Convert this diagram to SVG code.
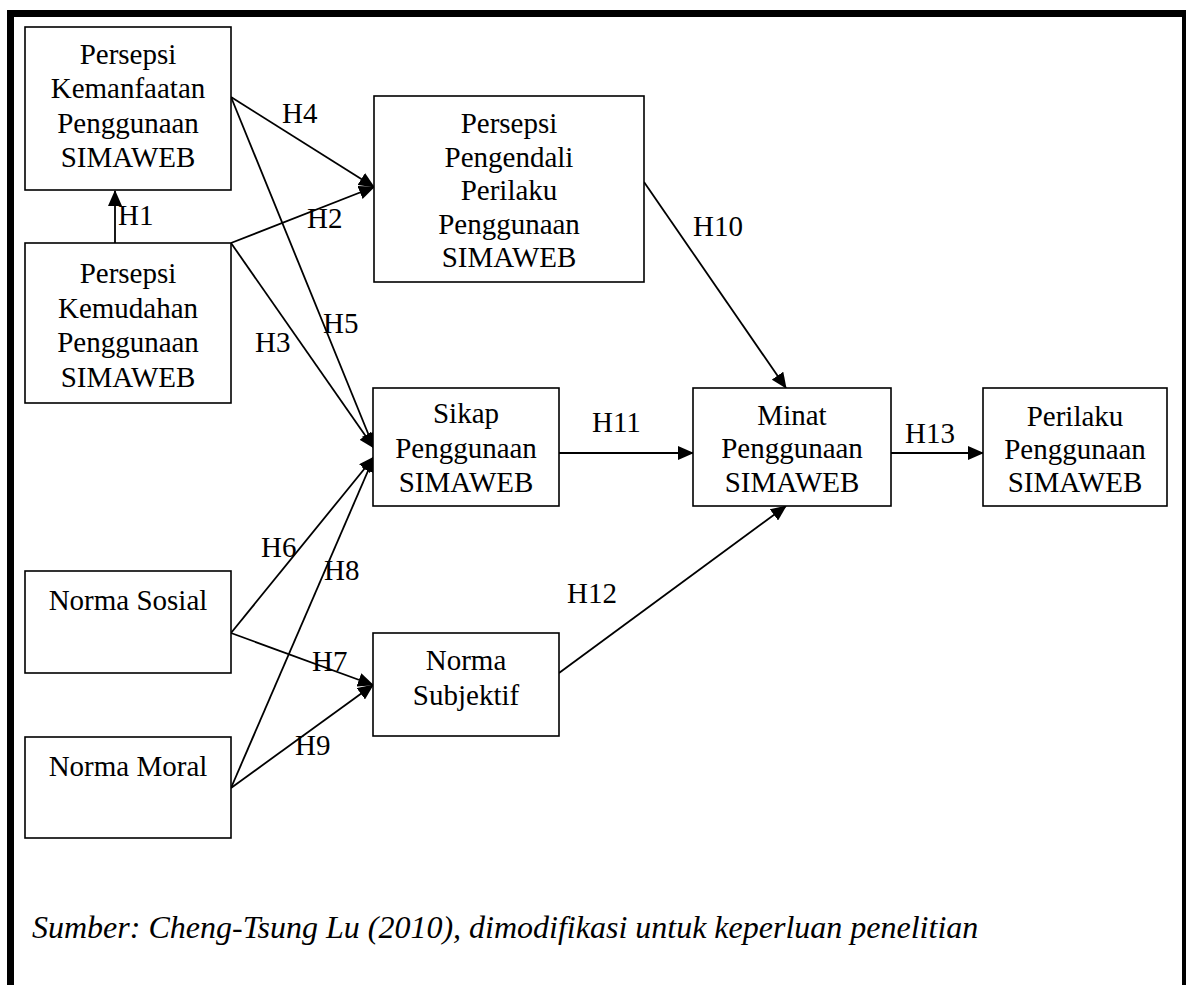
<svg xmlns="http://www.w3.org/2000/svg" width="1186" height="985" viewBox="0 0 1186 985">
<style>
.box{fill:#fff;stroke:#000;stroke-width:1.6}
.t{font-family:'Liberation Serif','Times New Roman','DejaVu Serif',serif;font-size:29px;fill:#000;text-anchor:middle}
.h{font-family:'Liberation Serif','Times New Roman','DejaVu Serif',serif;font-size:29px;fill:#000}
.c{fill:none;stroke:#000;stroke-width:1.8}
.cap{font-family:'Liberation Serif','Times New Roman','DejaVu Serif',serif;font-size:32px;font-style:italic;fill:#000}
</style>
<defs>
<marker id="ah" markerUnits="userSpaceOnUse" markerWidth="16" markerHeight="14" refX="15" refY="7" orient="auto">
<path d="M0,0 L16,7 L0,14 z" fill="#000"/>
</marker>
</defs>
<rect x="0" y="0" width="1186" height="985" fill="#fff"/>
<rect id="frame" x="10.5" y="13.5" width="1175" height="1000" fill="none" stroke="#000" stroke-width="7"/>

<g id="connectors">
<line class="c" x1="115" y1="243" x2="115" y2="191" marker-end="url(#ah)"/>
<line class="c" x1="231" y1="97" x2="374" y2="187" marker-end="url(#ah)"/>
<line class="c" x1="231" y1="243" x2="374" y2="187" marker-end="url(#ah)"/>
<line class="c" x1="231" y1="243" x2="374" y2="448" marker-end="url(#ah)"/>
<line class="c" x1="231" y1="97" x2="374" y2="448" marker-end="url(#ah)"/>
<line class="c" x1="231" y1="633" x2="374" y2="457" marker-end="url(#ah)"/>
<line class="c" x1="231" y1="788" x2="374" y2="457" marker-end="url(#ah)"/>
<line class="c" x1="231" y1="633" x2="373" y2="685" marker-end="url(#ah)"/>
<line class="c" x1="231" y1="788" x2="373" y2="685" marker-end="url(#ah)"/>
<line class="c" x1="644" y1="182" x2="786" y2="388" marker-end="url(#ah)"/>
<line class="c" x1="559" y1="453" x2="693" y2="453" marker-end="url(#ah)"/>
<line class="c" x1="559" y1="673" x2="786" y2="506" marker-end="url(#ah)"/>
<line class="c" x1="891" y1="453" x2="983" y2="453" marker-end="url(#ah)"/>
<text class="h" x="118" y="225">H1</text>
<text class="h" x="307" y="228">H2</text>
<text class="h" x="255" y="352">H3</text>
<text class="h" x="282" y="123">H4</text>
<text class="h" x="323" y="333">H5</text>
<text class="h" x="261" y="557">H6</text>
<text class="h" x="312" y="671">H7</text>
<text class="h" x="324" y="580">H8</text>
<text class="h" x="295" y="755">H9</text>
<text class="h" x="693" y="236">H10</text>
<text class="h" x="592" y="432">H11</text>
<text class="h" x="567" y="603">H12</text>
<text class="h" x="905" y="443">H13</text>
</g>

<g id="kemanfaatan">
<rect class="box" x="25" y="27" width="206" height="163"/>
<text class="t" x="128" y="64">Persepsi</text>
<text class="t" x="128" y="98">Kemanfaatan</text>
<text class="t" x="128" y="132.5">Penggunaan</text>
<text class="t" x="128" y="167">SIMAWEB</text>
</g>
<g id="kemudahan">
<rect class="box" x="25" y="243" width="206" height="160"/>
<text class="t" x="128" y="283">Persepsi</text>
<text class="t" x="128" y="317.5">Kemudahan</text>
<text class="t" x="128" y="352">Penggunaan</text>
<text class="t" x="128" y="386.5">SIMAWEB</text>
</g>
<g id="pengendali">
<rect class="box" x="374" y="96" width="270" height="186"/>
<text class="t" x="509" y="133">Persepsi</text>
<text class="t" x="509" y="167">Pengendali</text>
<text class="t" x="509" y="200">Perilaku</text>
<text class="t" x="509" y="233.5">Penggunaan</text>
<text class="t" x="509" y="267">SIMAWEB</text>
</g>
<g id="sikap">
<rect class="box" x="373" y="388" width="186" height="118"/>
<text class="t" x="466" y="423">Sikap</text>
<text class="t" x="466" y="458">Penggunaan</text>
<text class="t" x="466" y="492">SIMAWEB</text>
</g>
<g id="minat">
<rect class="box" x="693" y="388" width="198" height="118"/>
<text class="t" x="792" y="425">Minat</text>
<text class="t" x="792" y="458">Penggunaan</text>
<text class="t" x="792" y="492">SIMAWEB</text>
</g>
<g id="perilaku">
<rect class="box" x="983" y="388" width="184" height="118"/>
<text class="t" x="1075" y="426">Perilaku</text>
<text class="t" x="1075" y="459">Penggunaan</text>
<text class="t" x="1075" y="492">SIMAWEB</text>
</g>
<g id="normasubjektif">
<rect class="box" x="373" y="633" width="186" height="103"/>
<text class="t" x="466" y="670">Norma</text>
<text class="t" x="466" y="705">Subjektif</text>
</g>
<g id="normasosial">
<rect class="box" x="25" y="571" width="206" height="102"/>
<text class="t" x="128" y="610">Norma Sosial</text>
</g>
<g id="normamoral">
<rect class="box" x="25" y="737" width="206" height="101"/>
<text class="t" x="128" y="776">Norma Moral</text>
</g>
<text id="caption" class="cap" x="32" y="938">Sumber: Cheng-Tsung Lu (2010), dimodifikasi untuk keperluan penelitian</text>
</svg>
